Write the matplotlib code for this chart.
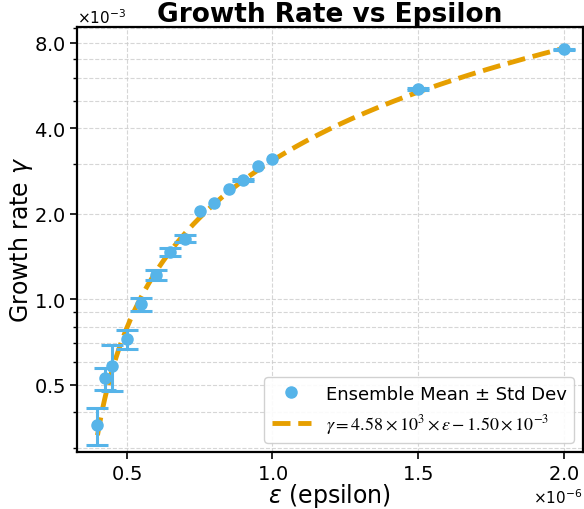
import numpy as np
import matplotlib
matplotlib.use("Agg")
import matplotlib.pyplot as plt
from matplotlib.ticker import FixedLocator, ScalarFormatter, NullFormatter, MultipleLocator

# ensemble results
eps = np.array([0.40, 0.425, 0.45, 0.50, 0.55, 0.60, 0.65, 0.70,
                0.75, 0.80, 0.85, 0.90, 0.95, 1.00, 1.50, 2.00]) * 1e-6
gamma_mean = np.array([0.36, 0.526, 0.582, 0.723, 0.960, 1.215, 1.467, 1.636,
                       2.04, 2.19, 2.45, 2.63, 2.95, 3.13, 5.52, 7.59]) * 1e-3
# no spread shown for single-member runs (nan)
gamma_std = np.array([0.054, 0.045, 0.107, 0.057, 0.050, 0.050, 0.050, 0.045,
                      np.nan, np.nan, np.nan, 0.02, np.nan, np.nan, 0.04, 0.04]) * 1e-3

# linear fit coefficients (from legend)
slope = 4.58e3
intercept = -1.50e-3

blue = "#56B4E9"
orange = "#E69F00"

fig = plt.figure(figsize=(5.84, 5.10), dpi=100)
ax = fig.add_axes([0.132, 0.112, 0.866, 0.833])

ax.errorbar(eps, gamma_mean, yerr=gamma_std, fmt="none", ecolor=blue,
            elinewidth=2.2, capsize=8, capthick=2.2, zorder=3)
ax.plot(eps, gamma_mean, "o", color=blue, markersize=8, zorder=4,
        label="Ensemble Mean ± Std Dev")

eps_fit = np.linspace(eps.min(), eps.max(), 200)
ax.plot(eps_fit, slope * eps_fit + intercept, "--", color=orange, lw=3.5, zorder=2,
        label=r"$\gamma = 4.58\times10^{3}\times\varepsilon - 1.50\times10^{-3}$")

ax.set_yscale("log")
ax.set_xlim(0.33e-6, 2.065e-6)
ax.set_ylim(0.29e-3, 9.1e-3)

ax.yaxis.set_major_locator(FixedLocator([0.5e-3, 1e-3, 2e-3, 4e-3, 8e-3]))
yfmt = ScalarFormatter(useMathText=True)
yfmt.set_powerlimits((0, 0))
ax.yaxis.set_major_formatter(yfmt)
ax.yaxis.set_minor_formatter(NullFormatter())

ax.xaxis.set_major_locator(MultipleLocator(0.5e-6))
xfmt = ScalarFormatter(useMathText=True)
xfmt.set_powerlimits((0, 0))
ax.xaxis.set_major_formatter(xfmt)

ax.tick_params(axis="both", which="major", labelsize=14, width=1.2, length=5)
ax.tick_params(axis="both", which="minor", width=1.0, length=3)
ax.xaxis.get_offset_text().set_fontsize(11)
ax.yaxis.get_offset_text().set_fontsize(11)

ax.grid(True, which="both", linestyle="--", color="#cccccc", linewidth=0.8, alpha=0.8)
for s in ax.spines.values():
    s.set_linewidth(1.6)

ax.set_title("Growth Rate vs Epsilon", fontsize=19, fontweight="bold", pad=3)
ax.set_xlabel(r"$\varepsilon$ (epsilon)", fontsize=17, labelpad=-1)
ax.set_ylabel(r"Growth rate $\gamma$", fontsize=17, labelpad=-1)

leg = ax.legend(loc="lower right", fontsize=13, framealpha=0.9, handlelength=2.2)
leg.get_texts()[1].set_math_fontfamily("stix")

fig.savefig("out.png", dpi=100)
